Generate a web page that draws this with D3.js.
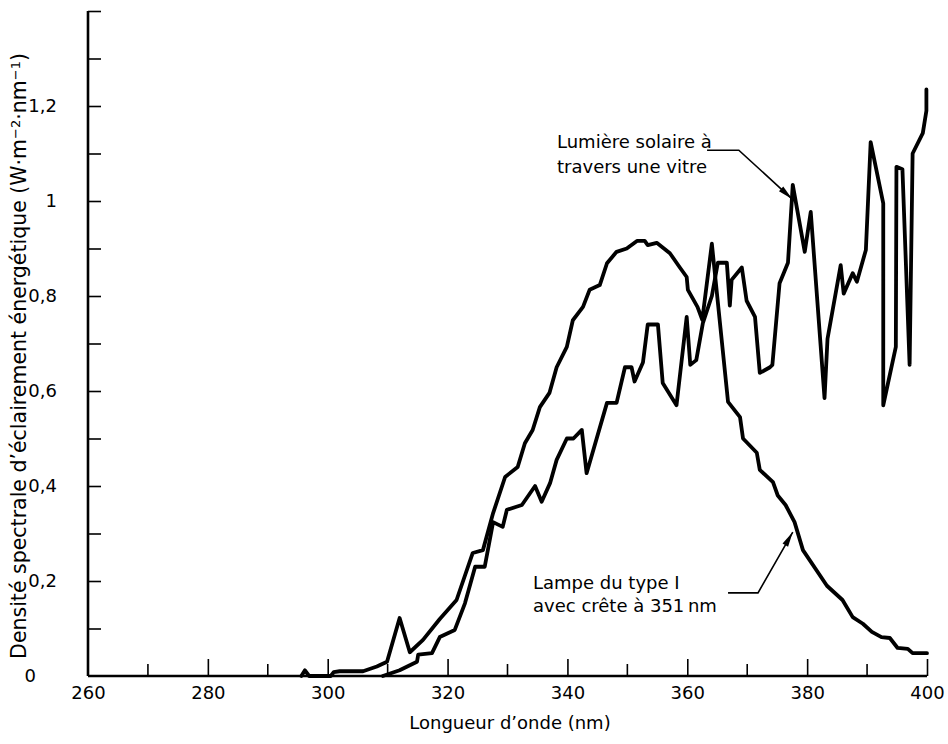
<!DOCTYPE html>
<html>
<head>
<meta charset="utf-8">
<script src="https://cdn.jsdelivr.net/npm/d3@7"></script>
<style>
  body { margin: 0; background: #fff; }
  svg { display: block; }
  text { font-family: "DejaVu Sans", sans-serif; fill: #000; }
</style>
</head>
<body>
<div id="chart"></div>
<script>
// wavelength (nm) / spectral irradiance (W·m-2·nm-1)
const lampWl = [295.6, 296.2, 296.9, 300.5, 301, 302, 305.9, 308.2, 309.9, 312, 313.7, 315.9, 318.7,
  321.5, 324.2, 325.9, 327.6, 329.6, 331.7, 332.9, 334.2, 335.4, 337, 338.2, 339.9, 340.9, 342.6,
  343.7, 345.4, 346.6, 348.2, 349.9, 351.6, 352.9, 353.4, 354.9, 357.1, 358.7, 359.9, 360.1, 361.7,
  362.5, 364.1, 366.8, 368.8, 369.3, 371.6, 372.1, 374.3, 375.1, 376.4, 377.9, 379.3, 383.3, 385.9,
  387.6, 389.3, 390.8, 392.4, 393.8, 395.1, 396.8, 397.6, 400]
const lampVal = [0, 0.012, 0, 0, 0.008, 0.01, 0.01, 0.02, 0.03, 0.122, 0.05, 0.076, 0.12,
  0.16, 0.259, 0.265, 0.343, 0.419, 0.44, 0.49, 0.518, 0.566, 0.596, 0.65, 0.693, 0.749, 0.777,
  0.813, 0.823, 0.869, 0.893, 0.9, 0.916, 0.916, 0.907, 0.912, 0.89, 0.861, 0.84, 0.813, 0.777,
  0.75, 0.91, 0.577, 0.545, 0.5, 0.47, 0.434, 0.408, 0.38, 0.36, 0.324, 0.265, 0.19, 0.16,
  0.124, 0.11, 0.093, 0.082, 0.08, 0.059, 0.057, 0.048, 0.048]

const glassWl = [309.2, 312, 314.9, 315.1, 317.4, 318.7, 321.2, 322.9, 324.6, 326.2, 327.6, 329.2,
  329.9, 332.4, 334.6, 335.7, 337.1, 338.2, 339.9, 341, 342.4, 343.2, 346.6, 348.2, 349.6, 350.7,
  351.2, 352.6, 353.4, 355.1, 355.9, 358.2, 359.9, 360.5, 361.5, 362.6, 364.1, 365.1, 366.6, 367.1,
  367.4, 369.1, 369.9, 371.3, 372.1, 373.8, 374.2, 375.4, 376.8, 377.6, 379.6, 380.6, 382.9, 383.4,
  385.6, 386.1, 387.6, 388.3, 389.8, 390.6, 392.7, 392.7, 394.8, 394.9, 395.9, 397.1, 397.6, 399.3,
  399.9, 399.9]
const glassVal = [0, 0.012, 0.03, 0.045, 0.048, 0.082, 0.097, 0.153, 0.23, 0.23, 0.324, 0.314,
  0.35, 0.36, 0.4, 0.367, 0.406, 0.455, 0.5, 0.5, 0.518, 0.427, 0.575, 0.575, 0.65, 0.65,
  0.62, 0.66, 0.74, 0.74, 0.617, 0.57, 0.756, 0.655, 0.665, 0.743, 0.8, 0.87, 0.87, 0.78,
  0.834, 0.86, 0.79, 0.756, 0.638, 0.65, 0.655, 0.827, 0.87, 1.034, 0.893, 0.977, 0.585, 0.71,
  0.865, 0.805, 0.848, 0.83, 0.897, 1.124, 0.995, 0.57, 0.693, 1.072, 1.067, 0.655, 1.1, 1.143,
  1.19, 1.235]

const xMajor = [260, 280, 300, 320, 340, 360, 380, 400]
const xMinor = [270, 290, 310, 330, 350, 370, 390]
const yTicks = [0.1, 0.2, 0.3, 0.4, 0.5, 0.6, 0.7, 0.8, 0.9, 1.0, 1.1, 1.2, 1.3, 1.4]
const yLabels = [0.2, 0.4, 0.6, 0.8, 1.0, 1.2]

const width = 948
const height = 744

const x = d3.scaleLinear().domain([260, 400]).range([88, 927])
const y = d3.scaleLinear().domain([0, 1.4]).range([676, 11])

const svg = d3.select('#chart').append('svg')
  .attr('width', width)
  .attr('height', height)
  .attr('viewBox', `0 0 ${width} ${height}`)

svg.append('rect').attr('width', width).attr('height', height).attr('fill', '#fff')

const fmt = v => String(+v.toFixed(1)).replace('.', ',')

// x axis: ticks point up into the plot
const xAxis = svg.append('g').attr('transform', `translate(0,${y(0)})`)
xAxis.call(d3.axisBottom(x).tickValues(xMajor).tickSize(-17).tickPadding(10).tickFormat(d => d))
xAxis.selectAll('.tick').filter(d => d === 260).select('line').remove()
xAxis.append('g').selectAll('line')
  .data(xMinor).enter().append('line')
  .attr('x1', d => x(d)).attr('x2', d => x(d))
  .attr('y1', 0).attr('y2', -12)
  .attr('stroke', '#000').attr('stroke-width', 1.6)

// y axis: ticks point right
const yAxis = svg.append('g').attr('transform', `translate(${x(260)},0)`)
yAxis.call(d3.axisLeft(y).tickValues(yTicks).tickSize(-13).tickPadding(31)
  .tickFormat(d => yLabels.some(v => Math.abs(v - d) < 1e-6) ? fmt(d) : ''))
yAxis.append('text')
  .attr('x', -52).attr('y', y(0)).attr('dy', '0.32em')
  .attr('text-anchor', 'end').text('0')

svg.selectAll('.domain').attr('stroke', '#000').attr('stroke-width', 2.6)
svg.selectAll('.tick line').attr('stroke', '#000').attr('stroke-width', 1.6)
svg.selectAll('.tick text').attr('fill', '#000').style('font-size', '18px')
  .style('font-family', '"DejaVu Sans", sans-serif')
yAxis.selectAll('text').style('font-size', '18px')
yAxis.select('.domain').attr('d', `M0,${y(0)}V${y(1.4)}`)
xAxis.select('.domain').attr('d', `M${x(260)},0H${x(400)}`)

// axis titles
svg.append('text')
  .attr('x', 510).attr('y', 729)
  .attr('text-anchor', 'middle').style('font-size', '18px')
  .text('Longueur d\u2019onde (nm)')

const yt = svg.append('text')
  .attr('transform', `translate(26,356) rotate(-90)`)
  .attr('text-anchor', 'middle').style('font-size', '20.5px')
yt.append('tspan').text('Densit\u00e9 spectrale d\u2019\u00e9clairement \u00e9nerg\u00e9tique (W\u00b7m')
yt.append('tspan').attr('baseline-shift', '45%').style('font-size', '13px').text('\u22122')
yt.append('tspan').text('\u00b7nm')
yt.append('tspan').attr('baseline-shift', '45%').style('font-size', '13px').text('\u22121')
yt.append('tspan').text(')')

// curves
const line = d3.line().x(d => x(d[0])).y(d => y(d[1]))
const lamp = d3.zip(lampWl, lampVal)
const glass = d3.zip(glassWl, glassVal)

svg.append('path').datum(lamp).attr('d', line)
  .attr('fill', 'none').attr('stroke', '#000').attr('stroke-width', 3.8)
  .attr('stroke-linejoin', 'round').attr('stroke-linecap', 'round')
svg.append('path').datum(glass).attr('d', line)
  .attr('fill', 'none').attr('stroke', '#000').attr('stroke-width', 3.8)
  .attr('stroke-linejoin', 'round').attr('stroke-linecap', 'round')

// leaders with arrowheads (anchors in data units)
const leaders = [
  [[363.3, 1.107], [368.6, 1.107], [377.5, 1.004]],
  [[366.8, 0.175], [371.8, 0.175], [377.6, 0.303]]
]
leaders.forEach(pts => {
  const p = pts.map(d => [x(d[0]), y(d[1])])
  svg.append('path').attr('d', d3.line()(p))
    .attr('fill', 'none').attr('stroke', '#000').attr('stroke-width', 1.6)
  const a = p[1], b = p[2]
  const ang = Math.atan2(b[1] - a[1], b[0] - a[0])
  const L = 15, W = 3.2
  const bx = b[0] - L * Math.cos(ang), by = b[1] - L * Math.sin(ang)
  const nx = -Math.sin(ang) * W, ny = Math.cos(ang) * W
  svg.append('path')
    .attr('d', `M${b[0]},${b[1]}L${bx + nx},${by + ny}L${bx - nx},${by - ny}Z`)
    .attr('fill', '#000')
})

// labels
const lab1 = svg.append('text').style('font-size', '18px')
lab1.append('tspan').attr('x', 557).attr('y', 148).text('Lumi\u00e8re solaire \u00e0')
lab1.append('tspan').attr('x', 557).attr('y', 173).text('travers une vitre')

const lab2 = svg.append('text').style('font-size', '18px')
lab2.append('tspan').attr('x', 533).attr('y', 589).text('Lampe du type I')
lab2.append('tspan').attr('x', 533).attr('y', 612).text('avec cr\u00eate \u00e0 351\u2009nm')
</script>
</body>
</html>
